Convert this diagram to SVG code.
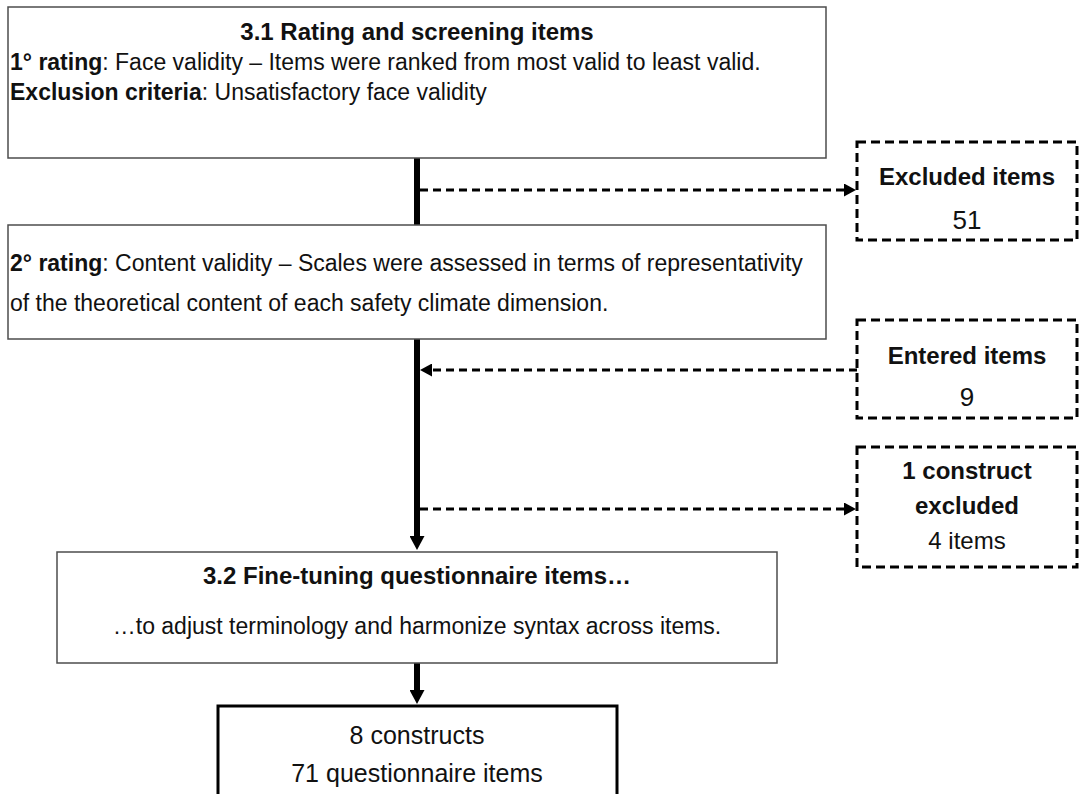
<svg xmlns="http://www.w3.org/2000/svg" width="1079" height="794" viewBox="0 0 1079 794">
<defs>
<style>
.box{fill:#fff;stroke:#4d4d4d;stroke-width:1.5}
.dbox{fill:#fff;stroke:#000;stroke-width:3;stroke-dasharray:9 5}
.t{font-family:"Liberation Sans",Arial,sans-serif;font-size:23px;fill:#111}
.h{font-size:24px;font-weight:bold}
.b{font-weight:bold}
.n{font-size:26px}
.c{text-anchor:middle}
.thick{stroke:#000;stroke-width:6;fill:none}
.dash{stroke:#000;stroke-width:3;stroke-dasharray:8 5;fill:none}
</style>
<marker id="ah" viewBox="0 0 12 13" refX="8" refY="6.5" markerWidth="12" markerHeight="13" markerUnits="userSpaceOnUse" orient="auto"><path d="M0,0 L12,6.5 L0,13 z" fill="#000"/></marker>
<marker id="ahv" viewBox="0 0 14 15" refX="6" refY="7.5" markerWidth="14" markerHeight="15" markerUnits="userSpaceOnUse" orient="auto"><path d="M0,0 L14,7.5 L0,15 z" fill="#000"/></marker>
</defs>
<rect width="1079" height="794" fill="#fff"/>
<g id="connectors">
<line class="thick" x1="417" y1="158" x2="417" y2="225"/>
<line class="thick" x1="417" y1="339" x2="417" y2="542" marker-end="url(#ahv)"/>
<line class="thick" x1="417" y1="663" x2="417" y2="696" marker-end="url(#ahv)"/>
<line class="dash" x1="420" y1="190" x2="852" y2="190" marker-end="url(#ah)"/>
<line class="dash" x1="857" y1="370" x2="424" y2="370" marker-end="url(#ah)"/>
<line class="dash" x1="420" y1="509" x2="852" y2="509" marker-end="url(#ah)"/>
</g>
<g id="rating-screening">
<rect class="box" x="8" y="7" width="818" height="151"/>
<text class="t h c" x="417" y="40">3.1 Rating and screening items</text>
<text class="t" x="10" y="70"><tspan class="b">1° rating</tspan>: Face validity – Items were ranked from most valid to least valid.</text>
<text class="t" x="10" y="100"><tspan class="b">Exclusion criteria</tspan>: Unsatisfactory face validity</text>
</g>
<g id="second-rating">
<rect class="box" x="8" y="225" width="818" height="114"/>
<text class="t" x="10" y="271"><tspan class="b">2° rating</tspan>: Content validity – Scales were assessed in terms of representativity</text>
<text class="t" x="10" y="311">of the theoretical content of each safety climate dimension.</text>
</g>
<g id="excluded-items">
<rect class="dbox" x="857" y="142" width="220" height="98"/>
<text class="t h c" x="967" y="185">Excluded items</text>
<text class="t n c" x="967" y="229">51</text>
</g>
<g id="entered-items">
<rect class="dbox" x="857" y="320" width="220" height="98"/>
<text class="t h c" x="967" y="364">Entered items</text>
<text class="t n c" x="967" y="406">9</text>
</g>
<g id="construct-excluded">
<rect class="dbox" x="857" y="447" width="220" height="120"/>
<text class="t h c" x="967" y="479">1 construct</text>
<text class="t h c" x="967" y="514">excluded</text>
<text class="t c" x="967" y="549" style="font-size:24px">4 items</text>
</g>
<g id="fine-tuning">
<rect class="box" x="57" y="552" width="720" height="111"/>
<text class="t h c" x="417" y="584">3.2 Fine-tuning questionnaire items…</text>
<text class="t c" x="417" y="634">…to adjust terminology and harmonize syntax across items.</text>
</g>
<g id="result">
<rect x="218" y="706" width="399" height="110" fill="#fff" stroke="#000" stroke-width="3"/>
<text class="t c" x="417" y="744" style="font-size:25px">8 constructs</text>
<text class="t c" x="417" y="782" style="font-size:25px">71 questionnaire  items</text>
</g>
</svg>
